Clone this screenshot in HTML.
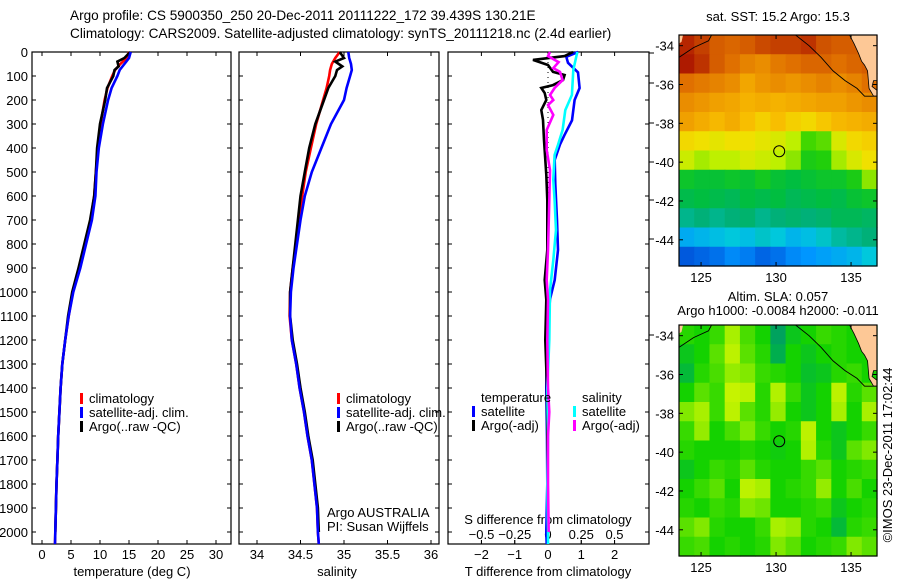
<!DOCTYPE html>
<html><head><meta charset="utf-8"><style>
html,body{margin:0;padding:0;background:#fff;}
svg{display:block;font-family:"Liberation Sans",sans-serif;}
text{font-size:13px;fill:#000;}
.ttl{font-size:13.6px;}
</style></head>
<body>
<svg id="fig" width="900" height="580" viewBox="0 0 900 580">
<text class="ttl" x="70" y="20" text-anchor="start">Argo profile: CS 5900350_250 20-Dec-2011 20111222_172 39.439S 130.21E</text>
<text class="ttl" x="70" y="38" text-anchor="start">Climatology: CARS2009. Satellite-adjusted climatology: synTS_20111218.nc (2.4d earlier)</text>
<text x="778" y="21" text-anchor="middle">sat. SST: 15.2 Argo: 15.3</text>
<text x="778" y="301" text-anchor="middle">Altim. SLA: 0.057</text>
<text x="778" y="315" text-anchor="middle">Argo h1000: -0.0084 h2000: -0.011</text>
<text transform="translate(892,455) rotate(-90)" text-anchor="middle">©IMOS 23-Dec-2011 17:02:44</text>
<g id="g"></g>
</svg>
<script>
// ---- profile data ----
const depthP = [0,25,50,75,100,150,200,300,400,500,600,700,800,900,1000,1100,1200,1300,1400,1500,1600,1700,1800,1900,2000,2050];
const climT = [15.0,14.6,13.5,12.6,12.1,11.3,10.8,10.1,9.6,9.3,9.0,8.4,7.4,6.4,5.3,4.6,4.0,3.5,3.2,3.0,2.8,2.65,2.5,2.4,2.3,2.25];
const satT  = [15.3,15.0,14.2,13.4,13.0,12.0,11.4,10.5,9.8,9.4,9.2,8.6,7.6,6.6,5.4,4.6,4.0,3.5,3.2,3.0,2.8,2.65,2.5,2.4,2.3,2.25];
const argoDepth = [0,25,40,60,75,100,150,200,300,400,500,600,700,800,900,1000,1100,1200,1300,1400,1500,1600,1700,1800,1900,2000];
const argoT = [15.2,14.2,13.0,13.2,12.5,12.3,11.2,10.9,10.0,9.5,9.3,9.0,8.3,7.3,6.3,5.2,4.5,4.0,3.5,3.2,3.0,2.8,2.65,2.5,2.4,2.3];
const climS = [34.95,34.9,34.86,34.84,34.83,34.8,34.76,34.68,34.62,34.56,34.52,34.48,34.45,34.41,34.38,34.375,34.4,34.45,34.49,34.54,34.58,34.63,34.66,34.69,34.70,34.71];
const satS  = [35.05,35.06,35.08,35.09,35.07,35.03,35.0,34.85,34.74,34.63,34.55,34.5,34.46,34.42,34.39,34.38,34.4,34.45,34.49,34.54,34.58,34.63,34.66,34.69,34.70,34.71];
const argoS = [34.95,35.0,34.9,34.98,34.92,34.9,34.82,34.77,34.67,34.6,34.55,34.5,34.47,34.44,34.41,34.38,34.38,34.41,34.46,34.5,34.55,34.59,34.64,34.67,34.70,34.71];
// ---- difference data ----
const satDTDepth = [0,20,45,85,150,200,285,345,385,450,550,700,825,950,1030,1200,1400,1600,1800,2000,2050];
const satDT = [0.9,0.55,0.6,0.9,0.95,0.8,0.72,0.5,0.36,0.2,0.22,0.27,0.3,0.2,0.06,-0.03,-0.05,-0.03,-0.02,-0.05,-0.04];
const argoDTDepth = [0,17,33,54,83,96,117,138,150,171,200,242,283,367,512,617,825,950,1033,1200,1400,1600,1800,2000];
const argoDT = [0.75,0.5,-0.45,0.0,0.15,0.5,0.45,0.15,-0.2,-0.1,-0.05,-0.2,-0.15,-0.12,-0.05,-0.02,-0.02,-0.1,-0.05,-0.08,-0.03,-0.02,-0.01,0.0];
const satDSDepth = [0,75,179,242,325,387,429,533,617,742,867,992,1200,1400,1600,1800,2000,2050];
const satDS = [0.22,0.19,0.18,0.13,0.11,0.075,0.05,0.04,0.05,0.06,0.04,0.015,0.01,-0.005,0.0,-0.005,0.0,0.0];
const argoDSDepth = [0,17,42,67,83,117,150,179,200,221,262,325,408,492,617,825,950,1033,1200,1400,1500,1600,1800,2000];
const argoDS = [0.015,0.0,0.08,0.04,0.09,0.11,0.05,0.015,0.04,0.0,0.04,-0.01,-0.01,0.015,0.01,0.0,-0.01,0.0,-0.005,0.0,0.01,0.0,0.0,0.005];
// ---- map data (rows north->south, cols west->east) ----
const sstGrid = [
[17.5,17.3,17.0,16.9,17.0,17.2,17.3,17.3,17.4,17.1,17.0,17.0,17.5],
[17.6,17.4,17.0,16.8,16.6,16.5,16.7,16.8,16.9,16.9,16.8,16.9,17.0],
[16.8,16.7,16.6,16.5,16.2,16.4,16.5,16.4,16.5,16.6,16.5,16.6,16.8],
[16.5,16.4,16.3,16.2,16.0,16.1,16.0,16.1,16.2,16.3,16.3,16.4,16.5],
[16.3,16.1,15.9,16.1,15.8,15.6,15.8,15.6,15.5,15.7,15.9,16.0,16.1],
[15.5,15.4,15.3,15.4,15.4,15.3,15.2,15.0,14.5,14.6,15.2,15.5,15.6],
[15.1,14.9,15.0,15.0,15.2,15.1,15.0,14.8,14.2,14.3,14.9,15.2,15.4],
[14.0,13.9,13.9,14.0,13.9,14.1,13.9,13.8,13.9,14.0,14.0,14.2,14.8],
[13.7,13.8,13.7,13.6,13.8,13.7,13.8,13.6,13.7,13.8,13.7,13.9,14.0],
[13.2,13.3,13.2,13.3,13.4,13.2,13.3,13.4,13.3,13.4,13.6,13.6,13.5],
[12.5,12.6,12.7,12.8,12.7,12.9,12.8,12.6,12.7,12.9,13.1,13.2,13.3],
[11.8,11.9,12.0,12.2,12.1,11.9,12.0,12.2,12.3,12.4,12.5,12.6,12.8]];
const slaGrid = [
[0.03,0.02,0.04,0.10,0.05,0.02,-0.06,0.00,0.02,0.04,0.03,0.02,0.02],
[0.00,0.02,0.06,0.12,0.06,0.03,-0.04,0.02,0.00,0.02,0.03,0.02,0.02],
[-0.02,0.03,0.05,0.09,0.08,0.04,0.03,0.02,-0.01,0.00,0.03,0.04,0.02],
[0.02,0.06,0.04,0.13,0.12,0.03,0.11,0.04,0.00,0.02,0.12,0.03,0.06],
[0.08,0.10,0.04,0.12,0.06,0.03,0.09,0.02,0.00,0.02,0.10,0.02,0.10],
[0.04,0.09,0.02,0.05,0.08,0.04,0.02,0.03,0.12,0.02,0.00,0.02,0.04],
[0.03,0.02,0.02,0.02,0.03,0.02,0.01,0.02,0.11,0.03,0.00,0.06,0.08],
[0.00,0.02,0.04,0.03,0.06,0.03,0.02,0.02,0.04,0.06,0.02,0.03,0.04],
[0.02,0.04,0.06,0.02,0.12,0.10,0.02,0.03,0.04,0.09,0.02,0.05,0.02],
[0.03,0.02,0.04,0.03,0.08,0.07,0.02,0.02,0.03,0.04,0.00,0.02,0.03],
[0.06,0.08,0.03,0.02,0.02,0.04,0.10,0.09,0.03,0.02,-0.02,0.03,0.04],
[0.04,0.05,0.02,0.03,0.02,0.03,0.08,0.06,0.02,0.03,0.04,0.08,0.06]];
const floatLon = 130.21, floatLat = -39.439;
const lonTicks = [125,130,135];
const latTicks = [-34,-36,-38,-40,-42,-44];
const depthTicks = [0,100,200,300,400,500,600,700,800,900,1000,1100,1200,1300,1400,1500,1600,1700,1800,1900,2000];
const tTicks = [0,5,10,15,20,25,30];
const sTicks = [34,34.5,35,35.5,36];
const dtTicks = [-2,-1,0,1,2];
const dsTicks = [-0.5,-0.25,0,0.25,0.5];
const dsTickLabels = ['-0.5','-0.25','0','0.25','0.5'];

const NS='http://www.w3.org/2000/svg';
const G=document.getElementById('g');
function mk(tag,attrs,parent){const e=document.createElementNS(NS,tag);for(const k in attrs)e.setAttribute(k,attrs[k]);(parent||G).appendChild(e);return e;}
function txt(x,y,s,anchor,parent){const e=mk('text',{x:x,y:y,'text-anchor':anchor||'middle'},parent);e.textContent=s;return e;}

const yD = d => 52 + d*0.24;
const TOP=52, BOT=544;
const xT = t => 42 + t*5.8;
const xS = s => 257 + (s-34)*87;
const xDT = v => 548 + v*33.3;
const xDS = v => 548 + v*133;

function frame(x0,x1,name){
  const r=mk('rect',{x:x0,y:TOP,width:x1-x0,height:BOT-TOP,fill:'none',stroke:'#000','stroke-width':1.2});
  
  
  depthTicks.forEach(d=>{mk('line',{x1:x0,x2:x0+4,y1:yD(d),y2:yD(d),stroke:'#000'});mk('line',{x1:x1-4,x2:x1,y1:yD(d),y2:yD(d),stroke:'#000'});});
}
function line(xs,ds,fx,color,name,w){
  const pts=xs.map((v,i)=>fx(v).toFixed(1)+','+yD(ds[i]).toFixed(1)).join(' ');
  const p=mk('polyline',{points:pts,fill:'none',stroke:color,'stroke-width':w||2.6,'stroke-linejoin':'miter'});
  
  
}
function legend(x,y,color,label,name){
  const g=mk('g',{});
  
  
  mk('rect',{x:x,y:y-10,width:3,height:11,fill:color},g);
  txt(x+9,y,label,'start',g);
}

// Panel 1 temperature
frame(32,231,'temperature-axes');
depthTicks.forEach(d=>{txt(28,yD(d)+5,String(d),'end');});
tTicks.forEach(t=>{mk('line',{x1:xT(t),x2:xT(t),y1:TOP,y2:TOP+4,stroke:'#000'});mk('line',{x1:xT(t),x2:xT(t),y1:BOT-4,y2:BOT,stroke:'#000'});txt(xT(t),559,String(t));});
txt(132,576,'temperature (deg C)');
line(climT,depthP,xT,'#ff0000','temp-climatology-line');
line(argoT,argoDepth,xT,'#000000','temp-argo-line');
line(satT,depthP,xT,'#0000ff','temp-satellite-line');
legend(80,403,'#ff0000','climatology','legend-temp-climatology');
legend(80,417,'#0000ff','satellite-adj. clim.','legend-temp-satellite');
legend(80,431,'#000000','Argo(..raw -QC)','legend-temp-argo');

// Panel 2 salinity
frame(239,439,'salinity-axes');
sTicks.forEach(s=>{mk('line',{x1:xS(s),x2:xS(s),y1:TOP,y2:TOP+4,stroke:'#000'});mk('line',{x1:xS(s),x2:xS(s),y1:BOT-4,y2:BOT,stroke:'#000'});txt(xS(s),559,String(s));});
txt(337,576,'salinity');
line(climS,depthP,xS,'#ff0000','sal-climatology-line');
line(argoS,argoDepth,xS,'#000000','sal-argo-line');
line(satS,depthP,xS,'#0000ff','sal-satellite-line');
legend(337,403,'#ff0000','climatology','legend-sal-climatology');
legend(337,417,'#0000ff','satellite-adj. clim.','legend-sal-satellite');
legend(337,431,'#000000','Argo(..raw -QC)','legend-sal-argo');
txt(327,517,'Argo AUSTRALIA','start');
txt(327,531,'PI: Susan Wijffels','start');

// Panel 3 differences
frame(448,649,'difference-axes');
dtTicks.forEach(v=>{mk('line',{x1:xDT(v),x2:xDT(v),y1:TOP,y2:TOP+4,stroke:'#000'});mk('line',{x1:xDT(v),x2:xDT(v),y1:BOT-4,y2:BOT,stroke:'#000'});txt(xDT(v),559,String(v).replace('-','−'));});
dsTicks.forEach((v,i)=>{mk('line',{x1:xDS(v),x2:xDS(v),y1:BOT-4,y2:BOT,stroke:'#000'});txt(xDS(v),539,dsTickLabels[i].replace('-','−'));});
txt(548,524,'S difference from climatology');
txt(548,576,'T difference from climatology');
[53,83,123,162,200,239,335].forEach(y=>mk('line',{x1:649,x2:654,y1:y,y2:y,stroke:'#000'}));
mk('line',{x1:548,x2:548,y1:TOP,y2:250,stroke:'#000','stroke-dasharray':'1,4','stroke-width':1});
line(satDT,satDTDepth,xDT,'#0000ff','tdiff-satellite-line');
line(argoDT,argoDTDepth,xDT,'#000000','tdiff-argo-line');
line(satDS,satDSDepth,xDS,'#00ffff','sdiff-satellite-line');
line(argoDS,argoDSDepth,xDS,'#ff00ff','sdiff-argo-line');
txt(481,402,'temperature','start');
txt(582,402,'salinity','start');
legend(472,416,'#0000ff','satellite','legend-tdiff-satellite');
legend(472,430,'#000000','Argo(-adj)','legend-tdiff-argo');
legend(573,416,'#00ffff','satellite','legend-sdiff-satellite');
legend(573,430,'#ff00ff','Argo(-adj)','legend-sdiff-argo');

// Maps
function hex(c){return '#'+c.map(v=>Math.round(v).toString(16).padStart(2,'0')).join('');}
function cmap(v,stops){
  if(v<=stops[0][0])return hex(stops[0][1]);
  for(let i=1;i<stops.length;i++){if(v<=stops[i][0]){const a=stops[i-1],b=stops[i],f=(v-a[0])/(b[0]-a[0]);return hex(a[1].map((c,k)=>c+(b[1][k]-c)*f));}}
  return hex(stops[stops.length-1][1]);
}
const sstStops=[[11.6,[0,64,208]],[12.3,[0,150,255]],[12.8,[0,200,220]],[13.3,[0,176,120]],[13.8,[0,190,64]],[14.4,[40,210,0]],[15.0,[190,240,0]],[15.4,[240,224,0]],[15.8,[248,190,0]],[16.3,[240,160,0]],[16.8,[224,112,0]],[17.3,[196,64,0]],[17.8,[160,0,0]]];
const slaStops=[[-0.08,[0,150,110]],[-0.03,[0,180,70]],[0.02,[20,210,0]],[0.06,[90,225,0]],[0.10,[168,240,0]],[0.14,[208,244,0]]];
function drawMap(top,bot,grid,stops,name){
  const L=679,R=877,lonA=123.53,lonB=136.73,latA=-33.45,latB=-45.35;
  const X=lon=>L+(lon-lonA)/(lonB-lonA)*(R-L);
  const Y=lat=>top+(lat-latA)/(latB-latA)*(bot-top);
  const g=mk('g',{});
  
  
  const nr=grid.length,nc=grid[0].length,cw=(R-L)/nc,ch=(bot-top)/nr;
  grid.forEach((row,i)=>row.forEach((v,j)=>{
    const c=mk('rect',{x:(L+j*cw).toFixed(2),y:(top+i*ch).toFixed(2),width:(cw+0.6).toFixed(2),height:(ch+0.6).toFixed(2),fill:cmap(v,stops)},g);
    
    
  }));
  const land=[[134.9,-33.45],[136.73,-33.45],[136.73,-35.8],[136.5,-35.8],[136.4,-36.1],[136.73,-36.3],[136.73,-36.6],[136.5,-36.6],[136.2,-36.2],[136.1,-35.3],[135.9,-35.0],[135.7,-34.8],[135.5,-34.4],[135.2,-33.9]];
  mk('polygon',{points:land.map(p=>X(p[0])+','+Y(p[1])).join(' '),fill:'#fdc896',stroke:'#000','stroke-width':0.8},g);
  mk('polygon',{points:[[123.53,-33.45],[123.8,-33.45],[123.7,-33.8],[123.53,-33.9]].map(p=>X(p[0])+','+Y(p[1])).join(' '),fill:'#fdc896'},g);
  const coastA=[[123.53,-34.6],[124.5,-34.1],[125.5,-33.75],[125.7,-33.45]];
  const coastB=[[131.3,-33.45],[132.2,-34.0],[133.0,-34.6],[133.8,-35.3],[134.6,-35.8],[135.4,-36.2],[135.9,-36.6],[136.73,-36.6]];
  [coastA,coastB].forEach(cst=>mk('polyline',{points:cst.map(p=>X(p[0])+','+Y(p[1])).join(' '),fill:'none',stroke:'#000','stroke-width':0.9},g));
  mk('rect',{x:L,y:top,width:R-L,height:bot-top,fill:'none',stroke:'#000','stroke-width':1.2},g);
  lonTicks.forEach(l=>{mk('line',{x1:X(l),x2:X(l),y1:top,y2:top+4,stroke:'#000'},g);mk('line',{x1:X(l),x2:X(l),y1:bot-4,y2:bot,stroke:'#000'},g);txt(X(l),bot+16,String(l),'middle',g);});
  latTicks.forEach(l=>{mk('line',{x1:L,x2:L+4,y1:Y(l),y2:Y(l),stroke:'#000'},g);mk('line',{x1:R-4,x2:R,y1:Y(l),y2:Y(l),stroke:'#000'},g);txt(L-5,Y(l)+5,String(l),'end',g);});
  const c=mk('circle',{cx:X(floatLon),cy:Y(floatLat),r:5.5,fill:'none',stroke:'#000','stroke-width':1},g);
  
  
}
drawMap(35,266,sstGrid,sstStops,'sst-map');
drawMap(325,556,slaGrid,slaStops,'sla-map');
</script>
</body></html>
